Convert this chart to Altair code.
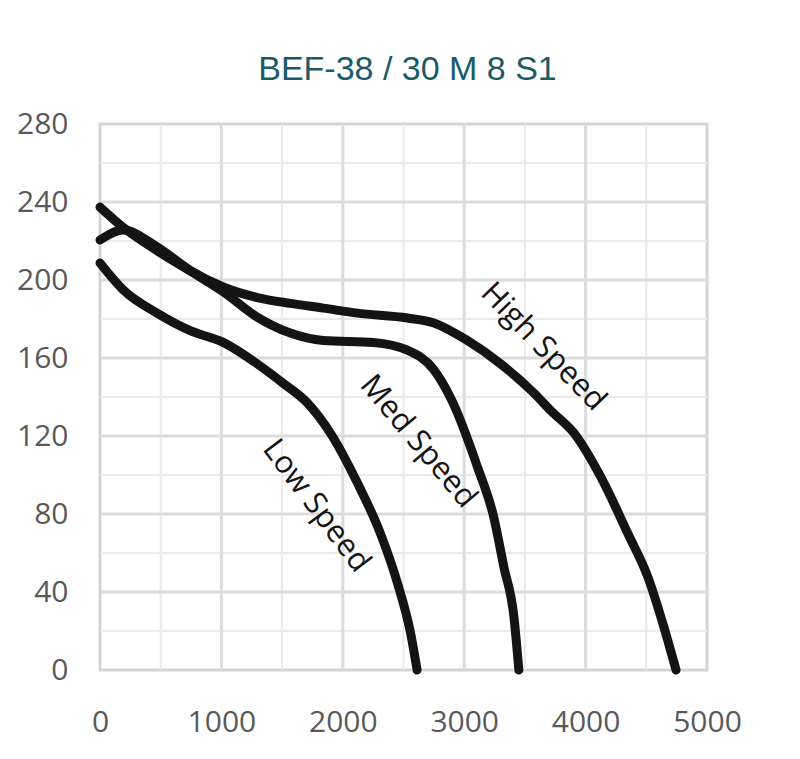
import altair as alt
import pandas as pd

# ---- data ----
low_q = [0, 190, 470, 743, 1015, 1295, 1510, 1708, 1898, 2120, 2310, 2450, 2558, 2612]
low_p = [208.7, 195, 183, 174, 168, 157, 147, 137, 121.5, 96, 70, 44.6, 19, 0]

med_q = [0, 190, 470, 825, 1015, 1295, 1568, 1840, 2252, 2533, 2750, 2900, 3110, 3243, 3327, 3410, 3450]
med_p = [237.4, 227, 215, 201.5, 194, 181, 172.8, 169, 168, 164, 154, 138, 104, 78.5, 52.8, 27, 0]

high_q = [0, 190, 470, 743, 1015, 1295, 1568, 1840, 2120, 2533, 2750, 3025, 3300, 3575, 3713, 3904, 4125, 4348, 4513, 4645, 4745]
high_p = [220.5, 225.6, 217, 205, 196.4, 191, 188, 185.6, 183, 180.5, 178, 169, 157, 142, 133, 121.5, 99, 70, 47.7, 22, 0]

label_text = ["Low Speed", "Med Speed", "High Speed"]
label_q = [1779, 2620, 3650]
label_p = [84, 117, 165.6]
label_angle = [53, 50, 46]

x_ticks = [0, 1000, 2000, 3000, 4000, 5000]
y_ticks = [0, 40, 80, 120, 160, 200, 240, 280]
x_minor = [500, 1500, 2500, 3500, 4500]
y_minor = [20, 60, 100, 140, 180, 220, 260]
x_major = [1000, 2000, 3000, 4000]
y_major = [40, 80, 120, 160, 200, 240]

title_text = "BEF-38 / 30 M 8 S1"

# ---- tables ----
rows = []
for name, qs, ps in [("Low", low_q, low_p), ("Med", med_q, med_p), ("High", high_q, high_p)]:
    for i, (q, p) in enumerate(zip(qs, ps)):
        rows.append({"series": name, "q": q, "p": p, "i": i})
curves = pd.DataFrame(rows)
labels = pd.DataFrame({"t": label_text, "q": label_q, "p": label_p, "a": label_angle})

xs = alt.Scale(domain=[0, 5000], nice=False, zero=False)
ys = alt.Scale(domain=[0, 280], nice=False, zero=False)

axis_common = dict(title=None, grid=False, domain=False, ticks=False, tickSize=0,
                   labelFont="Open Sans", labelFontSize=30, labelColor="#595959",
                   labelFlush=False, format="d", labelOverlap=False)
x_axis = alt.Axis(values=x_ticks, labelPadding=37, **axis_common)
y_axis = alt.Axis(values=y_ticks, labelPadding=32, **axis_common)

grid_minor_x = alt.Chart(pd.DataFrame({"v": x_minor})).mark_rule(
    color="#ebe9e9", strokeWidth=2).encode(x=alt.X("v:Q", scale=xs, axis=x_axis))
grid_minor_y = alt.Chart(pd.DataFrame({"v": y_minor})).mark_rule(
    color="#ebe9e9", strokeWidth=2).encode(y=alt.Y("v:Q", scale=ys, axis=y_axis))
grid_major_x = alt.Chart(pd.DataFrame({"v": x_major})).mark_rule(
    color="#dddbdb", strokeWidth=3).encode(x=alt.X("v:Q", scale=xs, axis=x_axis))
grid_major_y = alt.Chart(pd.DataFrame({"v": y_major})).mark_rule(
    color="#dddbdb", strokeWidth=3).encode(y=alt.Y("v:Q", scale=ys, axis=y_axis))

lines = alt.Chart(curves).mark_line(
    color="#141414", strokeWidth=9, strokeCap="round", strokeJoin="round",
    interpolate="monotone"
).encode(
    x=alt.X("q:Q", scale=xs, axis=x_axis),
    y=alt.Y("p:Q", scale=ys, axis=y_axis),
    detail="series:N",
    order="i:Q",
)

texts = alt.Chart(labels).mark_text(
    font="Open Sans", fontSize=31, color="#141414", align="center", baseline="middle"
).encode(
    x=alt.X("q:Q", scale=xs, axis=x_axis),
    y=alt.Y("p:Q", scale=ys, axis=y_axis),
    text="t:N",
    angle=alt.Angle("a:Q", scale=None),
)

chart = alt.layer(grid_minor_x, grid_minor_y, grid_major_x, grid_major_y, lines, texts).properties(
    width=607, height=546,
    padding={"left": 100, "top": 124, "right": 93, "bottom": 89},
    autosize=alt.AutoSizeParams(type="none"),
    title=alt.TitleParams(title_text, font="Liberation Sans", fontSize=34,
                          color="#1b5a69", fontWeight="normal", anchor="middle",
                          baseline="alphabetic", offset=-5, dx=4),
    background="white",
).configure_view(stroke="#d6d4d4", strokeWidth=3)

chart.save("out.html", embed_options={"renderer": "svg", "actions": False})
